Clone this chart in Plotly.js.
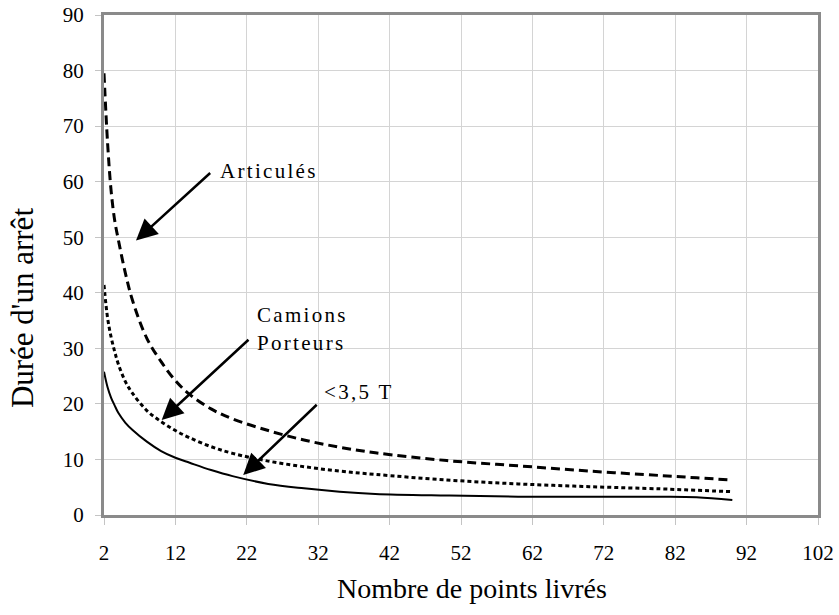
<!DOCTYPE html>
<html>
<head>
<meta charset="utf-8">
<script src="https://cdn.plot.ly/plotly-3.0.1.min.js"></script>
<style>html,body{margin:0;padding:0;background:#fff;}#chart{width:839px;height:615px;}</style>
</head>
<body>
<div id="chart"></div>
<script>
// Data
const pointsLivres = [2, 2.5, 3, 3.5, 4, 5, 6, 8, 10, 12, 14, 17, 20, 25, 30, 35, 40, 50, 60, 70, 80, 85, 90];
const articules     = [79.5, 67, 58.3, 53.0, 49.6, 43.5, 38.6, 31.8, 27.6, 24.2, 21.7, 19.1, 17.3, 15.2, 13.5, 12.2, 11.2, 9.8, 8.85, 7.9, 7.1, 6.7, 6.3];
const camions       = [41.4, 35.5, 32.0, 29.4, 27.2, 24.0, 21.9, 18.8, 16.8, 15.2, 13.9, 12.3, 11.1, 9.7, 8.7, 7.9, 7.3, 6.3, 5.6, 5.1, 4.7, 4.45, 4.2];
const moins35       = [25.8, 23.0, 21.1, 19.7, 18.4, 16.6, 15.3, 13.2, 11.5, 10.3, 9.4, 8.1, 7.0, 5.6, 4.8, 4.2, 3.8, 3.5, 3.3, 3.3, 3.3, 3.2, 2.7];
const xTicks = [2, 12, 22, 32, 42, 52, 62, 72, 82, 92, 102];
const yTicks = [0, 10, 20, 30, 40, 50, 60, 70, 80, 90];

const serif = 'Liberation Serif';
const traces = [
  {x: pointsLivres, y: articules, mode: 'lines', line: {color: '#000', width: 3, dash: '9px,5px', shape: 'spline', smoothing: 1}, name: 'Articulés'},
  {x: pointsLivres, y: camions, mode: 'lines', line: {color: '#000', width: 3, dash: '4px,3px', shape: 'spline', smoothing: 1}, name: 'Camions Porteurs'},
  {x: pointsLivres, y: moins35, mode: 'lines', line: {color: '#000', width: 2, shape: 'spline', smoothing: 1}, name: '<3,5 T'}
];

function txt(s){ return '<span style="letter-spacing:2.3px">' + s + '</span>'; }

const annFont = {family: serif, size: 21, color: '#000'};
const arrowBase = {text: '', showarrow: true, arrowhead: 2, arrowwidth: 2.5, arrowsize: 1.7, arrowcolor: '#000', axref: 'x', ayref: 'y', xref: 'x', yref: 'y', standoff: 0, startstandoff: 0};

const layout = {
  width: 839, height: 615,
  margin: {l: 104, r: 21, t: 15, b: 100},
  paper_bgcolor: '#fff', plot_bgcolor: '#fff',
  showlegend: false,
  font: {family: serif, color: '#000'},
  xaxis: {
    range: [2, 102], tickvals: xTicks, ticktext: xTicks.map(String),
    showgrid: true, gridcolor: '#d4d4d4', gridwidth: 1,
    showline: true, linecolor: '#8a8a8a', linewidth: 3, mirror: true,
    ticks: 'outside', ticklen: 7, tickcolor: '#c4c4c4', tickwidth: 1,
    ticklabelstandoff: 10,
    tickfont: {family: serif, size: 21, color: '#000'},
    zeroline: false
  },
  yaxis: {
    range: [0, 90], tickvals: yTicks, ticktext: yTicks.map(String),
    showgrid: true, gridcolor: '#d4d4d4', gridwidth: 1,
    showline: true, linecolor: '#8a8a8a', linewidth: 3, mirror: true,
    ticks: 'outside', ticklen: 6, tickcolor: '#c4c4c4', tickwidth: 1,
    ticklabelstandoff: 7,
    tickfont: {family: serif, size: 21, color: '#000'},
    zeroline: false
  },
  annotations: [
    Object.assign({}, arrowBase, {x: 6.48, y: 49.4, ax: 17.08, ay: 61.8}),
    Object.assign({}, arrowBase, {x: 10.08, y: 17.1, ax: 22.45, ay: 31.8}),
    Object.assign({}, arrowBase, {x: 21.5, y: 7.2, ax: 32.0, ay: 20.1}),
    {x: 17.9, y: 62.0, xref: 'x', yref: 'y', xanchor: 'left', yanchor: 'middle', showarrow: false, text: txt('Articulés'), font: annFont},
    {x: 23.1, y: 36.0, xref: 'x', yref: 'y', xanchor: 'left', yanchor: 'middle', showarrow: false, text: txt('Camions'), font: annFont},
    {x: 23.1, y: 31.0, xref: 'x', yref: 'y', xanchor: 'left', yanchor: 'middle', showarrow: false, text: txt('Porteurs'), font: annFont},
    {x: 32.6, y: 22.1, xref: 'x', yref: 'y', xanchor: 'left', yanchor: 'middle', showarrow: false, text: txt('&lt;3,5 T'), font: annFont},
    // axis titles
    {x: 0.515, y: -0.146, xref: 'paper', yref: 'paper', xanchor: 'center', yanchor: 'middle', showarrow: false,
     text: 'Nombre de points livrés', font: {family: serif, size: 28, color: '#000'}},
    {x: -0.114, y: 0.413, xref: 'paper', yref: 'paper', xanchor: 'center', yanchor: 'middle', showarrow: false, textangle: -90,
     text: "Durée d'un arrêt", font: {family: serif, size: 31, color: '#000'}}
  ]
};

Plotly.newPlot('chart', traces, layout, {staticPlot: true, displayModeBar: false});
</script>
</body>
</html>
